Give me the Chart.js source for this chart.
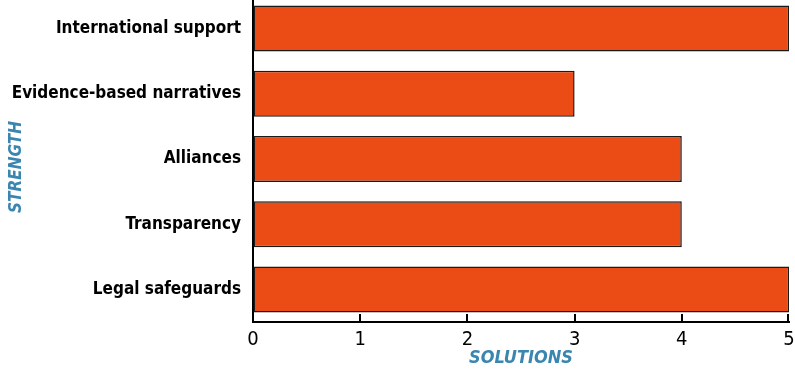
<!DOCTYPE html>
<html>
<head>
<meta charset="utf-8">
<script src="https://cdn.jsdelivr.net/npm/chart.js@4/dist/chart.umd.min.js"></script>
<style>
  html, body { margin: 0; padding: 0; background: #fff; overflow: hidden; }
  #wrap { width: 795px; height: 373px; position: relative; top: -4px; }
</style>
</head>
<body>
<div id="wrap"><canvas id="chart"></canvas></div>
<script>
const categories = ['International support', 'Evidence-based narratives', 'Alliances', 'Transparency', 'Legal safeguards'];
const solutions = [5, 3, 4, 4, 5];
const xTicks = [0, 1, 2, 3, 4, 5];

const barColor = '#EB4B14';
const titleColor = '#3A86B0';
const narrow = '"DejaVu Sans Condensed", "Liberation Sans Narrow", "Liberation Sans", sans-serif';

// piccole tacche verso l'interno sull'asse x
const innerTicks = {
  id: 'innerTicks',
  afterDatasetsDraw(chart) {
    const { ctx, chartArea, scales: { x } } = chart;
    ctx.save();
    ctx.strokeStyle = '#000';
    ctx.lineWidth = 2;
    xTicks.forEach(v => {
      const px = Math.round(x.getPixelForValue(v)) + (v === 5 ? -1 : 0);
      ctx.beginPath();
      ctx.moveTo(px, chartArea.bottom - 8);
      ctx.lineTo(px, chartArea.bottom);
      ctx.stroke();
    });
    ctx.restore();
  }
};

new Chart(document.getElementById('chart'), {
  type: 'bar',
  data: {
    labels: categories,
    datasets: [{
      data: solutions,
      backgroundColor: barColor,
      borderColor: '#1a1a1a',
      borderWidth: 1.5,
      borderSkipped: false,
      barPercentage: 0.82,
      categoryPercentage: 0.86
    }]
  },
  options: {
    indexAxis: 'y',
    responsive: true,
    maintainAspectRatio: false,
    animation: false,
    layout: { padding: { top: 0, right: 6, left: 0, bottom: 0 } },
    plugins: { legend: { display: false }, tooltip: { enabled: false } },
    scales: {
      x: {
        min: 0,
        max: 5,
        afterBuildTicks: s => { s.ticks = xTicks.map(v => ({ value: v })); },
        afterFit: s => { s.height = 47; s.paddingLeft = 0; s.paddingRight = 0; },
        grid: { display: true, drawOnChartArea: false, drawTicks: false },
        border: { display: true, color: '#000', width: 2 },
        ticks: {
          color: '#000',
          padding: 6,
          maxRotation: 0,
          font: { family: narrow, size: 20 }
        },
        title: {
          display: true,
          text: 'SOLUTIONS',
          color: titleColor,
          padding: { top: -2, bottom: 0 },
          font: { family: narrow, size: 18, style: 'italic', weight: 'bold' }
        }
      },
      y: {
        afterFit: s => { s.width = 253; s.paddingTop = 0; s.paddingBottom = 0; },
        grid: { display: false, drawTicks: false },
        border: { display: true, color: '#000', width: 2 },
        ticks: {
          color: '#000',
          padding: 12,
          font: { family: narrow, size: 17, weight: 'bold' }
        },
        title: {
          display: true,
          // spazi in coda per abbassare un po' il titolo ruotato
          text: 'STRENGTH   ',
          color: titleColor,
          padding: { top: 6, bottom: 0 },
          font: { family: narrow, size: 17, style: 'italic', weight: 'bold' }
        }
      }
    }
  },
  plugins: [innerTicks]
});
</script>
</body>
</html>
